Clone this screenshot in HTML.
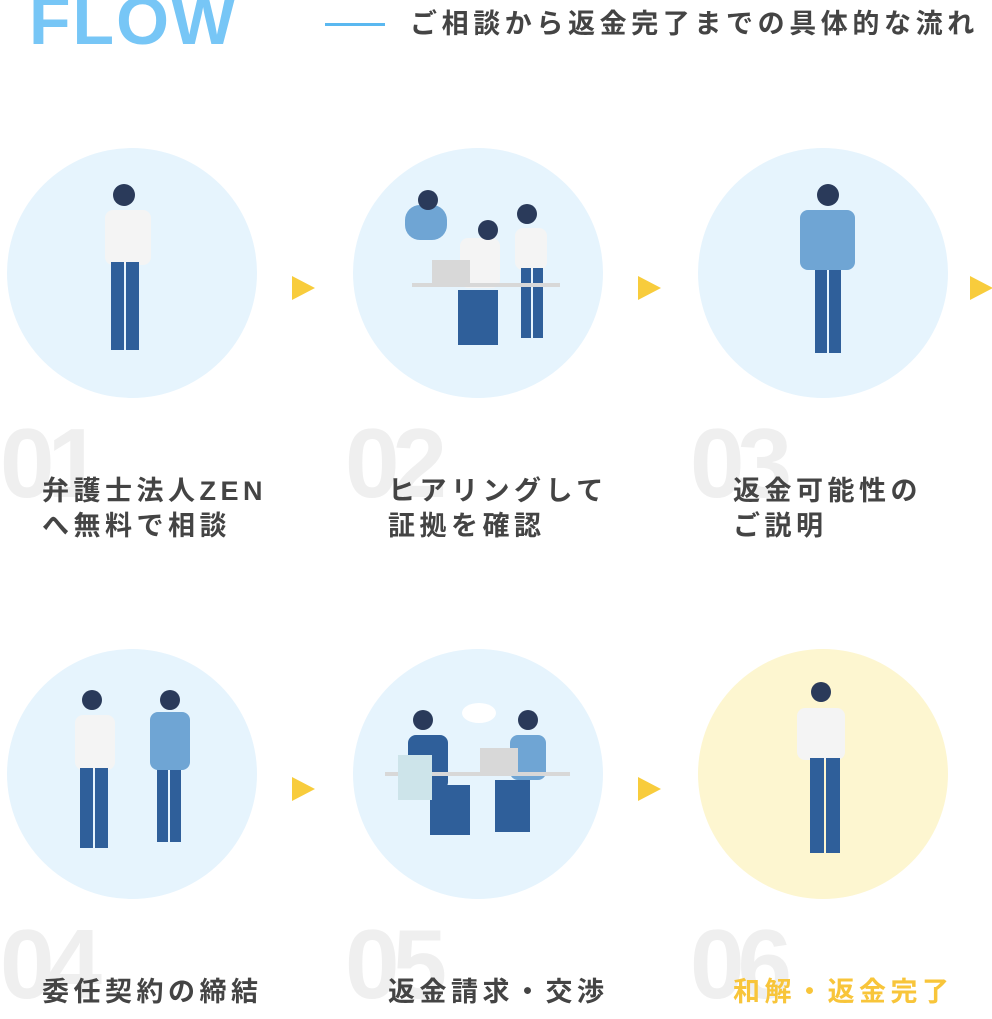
<!DOCTYPE html>
<html><head><meta charset="utf-8"><style>
*{margin:0;padding:0;box-sizing:border-box}
body{width:992px;height:1006px;background:#fff;position:relative;overflow:hidden;font-family:"Liberation Sans","Noto Sans CJK JP",sans-serif}
.a{position:absolute}
.flow{left:29px;top:-14px;font-size:68px;font-weight:bold;color:#77c6f6;letter-spacing:2px;line-height:70px}
.line{left:325px;top:23px;width:60px;height:3px;background:#5ab8f0}
.sub{left:410px;top:7px;font-size:27px;font-weight:bold;color:#444;letter-spacing:4.6px;line-height:34px;white-space:nowrap}
.c{width:250px;height:250px;border-radius:50%;background:#e6f4fd}
.num{font-size:98px;font-weight:bold;color:#efefef;line-height:100px;letter-spacing:-7px}
.lb{font-size:27px;font-weight:bold;color:#444;letter-spacing:4.5px;line-height:35px;white-space:nowrap}
.tri{width:0;height:0;border-top:12px solid transparent;border-bottom:12px solid transparent;border-left:23px solid #f8cc3c}
</style></head><body>
<div class="a flow">FLOW</div>
<div class="a line"></div>
<div class="a sub">ご相談から返金完了までの具体的な流れ</div>

<div class="a c" style="left:7px;top:148px"></div>
<div class="a c" style="left:353px;top:148px"></div>
<div class="a c" style="left:698px;top:148px"></div>
<div class="a c" style="left:7px;top:649px"></div>
<div class="a c" style="left:353px;top:649px"></div>
<div class="a c" style="left:698px;top:649px;background:#fdf6d0"></div>

<svg class="a" style="left:0;top:0" width="992" height="1006">
<g fill="#f4f4f4"><rect x="105" y="210" width="46" height="55" rx="8"/><rect x="460" y="238" width="40" height="50" rx="8"/><rect x="515" y="228" width="32" height="42" rx="8"/><rect x="75" y="715" width="40" height="55" rx="8"/><rect x="797" y="708" width="48" height="52" rx="8"/></g>
<g fill="#2f5f9a"><rect x="111" y="262" width="13" height="88"/><rect x="126" y="262" width="13" height="88"/><rect x="521" y="268" width="10" height="70"/><rect x="533" y="268" width="10" height="70"/><rect x="458" y="290" width="40" height="55"/><rect x="815" y="248" width="12" height="105"/><rect x="829" y="248" width="12" height="105"/><rect x="80" y="768" width="13" height="80"/><rect x="95" y="768" width="13" height="80"/><rect x="157" y="762" width="11" height="80"/><rect x="170" y="762" width="11" height="80"/><rect x="430" y="785" width="40" height="50"/><rect x="495" y="780" width="35" height="52"/><rect x="810" y="758" width="14" height="95"/><rect x="826" y="758" width="14" height="95"/></g>
<g fill="#6fa5d4"><rect x="800" y="210" width="55" height="60" rx="8"/><rect x="405" y="205" width="42" height="35" rx="15"/><rect x="150" y="712" width="40" height="58" rx="8"/><rect x="510" y="735" width="36" height="45" rx="8"/><rect x="408" y="735" width="40" height="55" rx="8" fill="#2f5f9a"/></g>
<g fill="#d8d8d8"><rect x="412" y="283" width="148" height="4"/><rect x="385" y="772" width="185" height="4"/><rect x="432" y="260" width="38" height="24"/><rect x="480" y="748" width="38" height="24"/></g>
<rect x="398" y="755" width="34" height="45" fill="#cde4ea"/>
<ellipse cx="479" cy="713" rx="17" ry="10" fill="#fff"/>
<g fill="#2a3a5a"><circle cx="124" cy="195" r="11"/><circle cx="428" cy="200" r="10"/><circle cx="488" cy="230" r="10"/><circle cx="527" cy="214" r="10"/><circle cx="828" cy="195" r="11"/><circle cx="92" cy="700" r="10"/><circle cx="170" cy="700" r="10"/><circle cx="423" cy="720" r="10"/><circle cx="528" cy="720" r="10"/><circle cx="821" cy="692" r="10"/></g>
</svg>

<div class="a tri" style="left:292px;top:276px"></div>
<div class="a tri" style="left:638px;top:276px"></div>
<div class="a tri" style="left:970px;top:276px"></div>
<div class="a tri" style="left:292px;top:777px"></div>
<div class="a tri" style="left:638px;top:777px"></div>

<div class="a num" style="left:0;top:413px">01</div>
<div class="a num" style="left:345px;top:413px">02</div>
<div class="a num" style="left:690px;top:413px">03</div>
<div class="a num" style="left:0;top:914px">04</div>
<div class="a num" style="left:345px;top:914px">05</div>
<div class="a num" style="left:690px;top:914px">06</div>

<div class="a lb" style="left:42px;top:474px">弁護士法人ZEN<br>へ無料で相談</div>
<div class="a lb" style="left:388px;top:474px">ヒアリングして<br>証拠を確認</div>
<div class="a lb" style="left:733px;top:474px">返金可能性の<br>ご説明</div>
<div class="a lb" style="left:42px;top:975px">委任契約の締結</div>
<div class="a lb" style="left:388px;top:975px">返金請求・交渉</div>
<div class="a lb" style="left:733px;top:975px;color:#f8c53a">和解・返金完了</div>
</body></html>
